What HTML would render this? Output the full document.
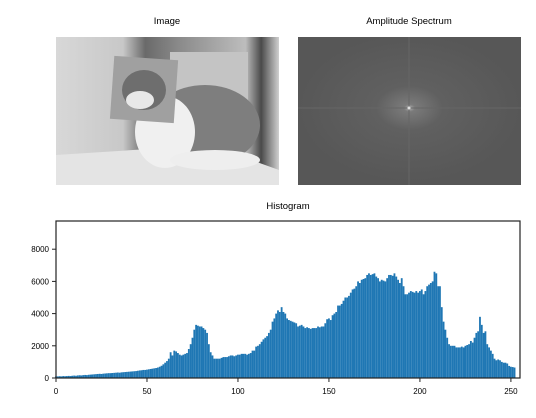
<!DOCTYPE html>
<html><head><meta charset="utf-8"><style>
body{margin:0;background:#fff;}
svg{display:block;font-family:"Liberation Sans","DejaVu Sans",sans-serif;}
</style></head><body>
<svg id="fig" width="536" height="418" viewBox="0 0 536 418">
<defs>
<linearGradient id="bg1" x1="0" x2="1" y1="0" y2="0">
<stop offset="0" stop-color="#d8d8d8"/><stop offset="0.3" stop-color="#c8c8c8"/><stop offset="0.4" stop-color="#6a6a6a"/><stop offset="0.55" stop-color="#8a8a8a"/><stop offset="0.85" stop-color="#bdbdbd"/><stop offset="0.92" stop-color="#4a4a4a"/><stop offset="1" stop-color="#d0d0d0"/>
</linearGradient>
<radialGradient id="spec" cx="0.5" cy="0.48" r="0.5">
<stop offset="0" stop-color="#b0b0b0"/><stop offset="0.05" stop-color="#7a7a7a"/><stop offset="0.3" stop-color="#606060"/><stop offset="1" stop-color="#575757"/>
</radialGradient>
</defs>
<text x="167" y="24" font-size="9.5" text-anchor="middle">Image</text>
<text x="409" y="24" font-size="9.5" text-anchor="middle">Amplitude Spectrum</text>
<g>
<rect x="56" y="37" width="223" height="148" fill="url(#bg1)"/>
<rect x="170" y="52" width="78" height="95" fill="#c4c4c4"/>
<polygon points="56,155 210,145 279,170 279,185 56,185" fill="#e4e4e4"/>
<ellipse cx="205" cy="125" rx="55" ry="40" fill="#7e7e7e"/>
<ellipse cx="165" cy="132" rx="30" ry="36" fill="#f0f0f0"/>
<ellipse cx="215" cy="160" rx="45" ry="10" fill="#eeeeee"/>
<rect x="112" y="58" width="64" height="63" fill="#a0a0a0" transform="rotate(4 144 90)"/>
<ellipse cx="144" cy="90" rx="22" ry="20" fill="#6e6e6e"/>
<ellipse cx="140" cy="100" rx="14" ry="9" fill="#e8e8e8"/>
</g>
<g>
<rect x="298" y="37" width="223" height="148" fill="url(#spec)"/>
<line x1="409" y1="37" x2="409" y2="185" stroke="#666" stroke-width="1"/>
<line x1="298" y1="108" x2="521" y2="108" stroke="#666" stroke-width="1"/>
<circle cx="409" cy="108" r="1.5" fill="#e0e0e0"/>
</g>
<text x="288" y="209" font-size="9.5" text-anchor="middle">Histogram</text>
<g id="bars"></g>
<g id="axes"></g>
<rect x="56" y="221" width="464" height="157" fill="none" stroke="#222" stroke-width="1.2"/>
</svg>
<script>
const binCounts = [
100,100,110,100,120,110,120,130,120,140,
150,140,160,170,160,180,190,180,200,210,
220,230,240,250,260,250,270,280,290,300,
300,310,320,330,340,330,350,360,370,380,
390,400,410,420,430,450,470,480,500,500,
520,540,560,580,600,620,650,700,760,850,
950,1050,1200,1600,1400,1700,1650,1550,1450,1400,
1450,1500,1550,1800,2100,2500,3000,3300,3250,3200,
3200,3100,3000,2800,2100,1600,1400,1200,1200,1200,
1200,1250,1300,1300,1300,1350,1400,1400,1350,1400,
1450,1450,1500,1500,1500,1450,1500,1550,1700,1700,
1950,2000,2100,2250,2400,2500,2600,2800,3000,3500,
3700,4000,4200,4100,4400,4100,4000,3700,3600,3550,
3500,3450,3400,3200,3250,3300,3200,3100,3150,3100,
3050,3100,3100,3100,3200,3150,3200,3200,3400,3650,
3700,3600,3900,4000,4100,4500,4500,4600,4800,5000,
5000,5100,5300,5500,5550,5700,6000,5900,6100,6150,
6200,6400,6500,6400,6450,6500,6300,6200,6000,6100,
6050,6000,6200,6400,6400,6350,6500,6300,6100,5900,
6200,5700,5200,5200,5300,5400,5350,5300,5400,5300,
5400,5500,5200,5400,5700,5800,5900,6000,6600,6500,
5700,5700,4400,3500,3000,2500,2100,2000,2000,2000,
1900,1900,1900,1950,1900,2000,2050,2100,2300,2200,
2500,2800,2900,3800,3300,2800,2900,2100,1900,1700,
1500,1200,1100,1150,1100,1000,950,950,900,750,
700,680,650,
];
const xTicks = [0,50,100,150,200,250];
const yTicks = [0,2000,4000,6000,8000];
const NS="http://www.w3.org/2000/svg";
const x0=56,x1=520,xmax=255,y0=378,yPer1000=16.1;
const X=v=>x0+(v/xmax)*(x1-x0);
const Y=v=>y0-v/1000*yPer1000;
const bars=document.getElementById('bars');
const bw=(x1-x0)/xmax*1.0;
binCounts.forEach((c,i)=>{
 const r=document.createElementNS(NS,'rect');
 r.setAttribute('x',X(i)-bw/2);r.setAttribute('y',Y(c));
 r.setAttribute('width',bw);r.setAttribute('height',y0-Y(c));
 r.setAttribute('fill','#1f77b4');
 
 
 bars.appendChild(r);
});
const ax=document.getElementById('axes');
xTicks.forEach(t=>{
 const l=document.createElementNS(NS,'line');
 l.setAttribute('x1',X(t));l.setAttribute('x2',X(t));l.setAttribute('y1',y0);l.setAttribute('y2',y0+4);
 l.setAttribute('stroke','#222');
 ax.appendChild(l);
 const tx=document.createElementNS(NS,'text');
 tx.setAttribute('x',X(t));tx.setAttribute('y',y0+16);tx.setAttribute('font-size','8');tx.setAttribute('text-anchor','middle');
 tx.textContent=t;
 
 
 ax.appendChild(tx);
});
yTicks.forEach(t=>{
 const l=document.createElementNS(NS,'line');
 l.setAttribute('x1',x0-4);l.setAttribute('x2',x0);l.setAttribute('y1',Y(t));l.setAttribute('y2',Y(t));
 l.setAttribute('stroke','#222');
 ax.appendChild(l);
 const tx=document.createElementNS(NS,'text');
 tx.setAttribute('x',x0-7);tx.setAttribute('y',Y(t)+3);tx.setAttribute('font-size','8');tx.setAttribute('text-anchor','end');
 tx.textContent=t;
 
 
 ax.appendChild(tx);
});
</script>
</body></html>
